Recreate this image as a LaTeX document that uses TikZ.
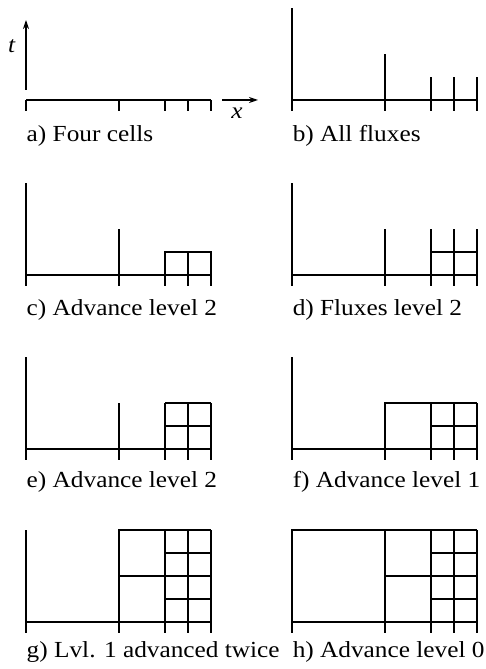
\documentclass[tikz,border=0pt]{standalone}
\usepackage{fontspec}
\setmainfont{Liberation Serif}[FakeStretch=1.1]
\usetikzlibrary{arrows.meta}

% baseline of the four cells with their ticks
\newcommand\cellbase{%
  \draw (0,0) -- (185,0);
  \foreach \xt in {0,93,139,162,185} \draw (\xt,0) -- (\xt,-11);
}

\begin{document}
\begin{tikzpicture}[
  x=1pt, y=1pt,
  line width=1.5pt,
  every node/.style={font=\fontsize{23}{26}\selectfont},
  flux/.style={line width=2.3pt},
  axis/.style={-{Stealth[length=9pt,width=6pt]}, line width=1.3pt},
  caption/.style={anchor=base west, inner sep=0pt}
]
\useasboundingbox (0,0) rectangle (486,669);

% a) Four cells
\begin{scope}[shift={(26,569)}]
  \cellbase
  \coordinate (tlo) at (0,10);
  \coordinate (thi) at (0,80);
  \coordinate (xlo) at (196,0);
  \coordinate (xhi) at (232,0);
  \draw[axis] (tlo) -- (thi);
  \draw[axis] (xlo) -- (xhi);
  \node (tlab) at (-14,54) {\textit{t}};
  \node (xlab) at (211,-13) {\textit{x}};
  \node[caption] (capa) at (0,-42) {a) Four cells};
\end{scope}

% b) All fluxes
\begin{scope}[shift={(292,569)}]
  \cellbase
  \draw[flux] (0,0) -- (0,92);
  \draw[flux] (93,0) -- (93,46);
  \foreach \xf in {139,162,185} \draw[flux] (\xf,0) -- (\xf,23);
  \node[caption] (capb) at (0,-42) {b) All fluxes};
\end{scope}

% c) Advance level 2
\begin{scope}[shift={(26,394)}]
  \cellbase
  \draw (0,0) -- (0,92);
  \draw (93,0) -- (93,46);
  \draw (139,0) rectangle (185,23);
  \draw (162,0) -- (162,23);
  \node[caption] (capc) at (0,-41) {c) Advance level 2};
\end{scope}

% d) Fluxes level 2
\begin{scope}[shift={(292,394)}]
  \cellbase
  \draw (0,0) -- (0,92);
  \draw (93,0) -- (93,46);
  \draw (139,23) -- (185,23);
  \foreach \xf in {139,162,185} {
    \draw (\xf,0) -- (\xf,23);
    \draw[flux] (\xf,23) -- (\xf,46);
  }
  \node[caption] (capd) at (0,-41) {d) Fluxes level 2};
\end{scope}

% e) Advance level 2
\begin{scope}[shift={(26,220)}]
  \cellbase
  \draw (0,0) -- (0,92);
  \draw (93,0) -- (93,46);
  \foreach \xf in {139,162,185} \draw (\xf,0) -- (\xf,46);
  \foreach \yf in {23,46} \draw (139,\yf) -- (185,\yf);
  \node[caption] (cape) at (0,-39) {e) Advance level 2};
\end{scope}

% f) Advance level 1
\begin{scope}[shift={(292,220)}]
  \cellbase
  \draw (0,0) -- (0,92);
  \draw (93,0) rectangle (139,46);
  \foreach \xf in {162,185} \draw (\xf,0) -- (\xf,46);
  \foreach \yf in {23,46} \draw (139,\yf) -- (185,\yf);
  \node[caption] (capf) at (0,-39) {f) Advance level 1};
\end{scope}

% g) Lvl. 1 advanced twice
\begin{scope}[shift={(26,47)}]
  \cellbase
  \draw (0,0) -- (0,92);
  \draw (93,0) rectangle (139,92);
  \draw (93,46) -- (139,46);
  \foreach \xf in {162,185} \draw (\xf,0) -- (\xf,92);
  \foreach \yf in {23,46,69,92} \draw (139,\yf) -- (185,\yf);
  \node[caption] (capg) at (0,-35) {g) Lvl. 1 advanced twice};
\end{scope}

% h) Advance level 0
\begin{scope}[shift={(292,47)}]
  \cellbase
  \draw (0,0) -- (0,92) -- (93,92);
  \draw (93,0) rectangle (139,92);
  \draw (93,46) -- (139,46);
  \foreach \xf in {162,185} \draw (\xf,0) -- (\xf,92);
  \foreach \yf in {23,46,69,92} \draw (139,\yf) -- (185,\yf);
  \node[caption] (caph) at (0,-35) {h) Advance level 0};
\end{scope}
\end{tikzpicture}
\end{document}
